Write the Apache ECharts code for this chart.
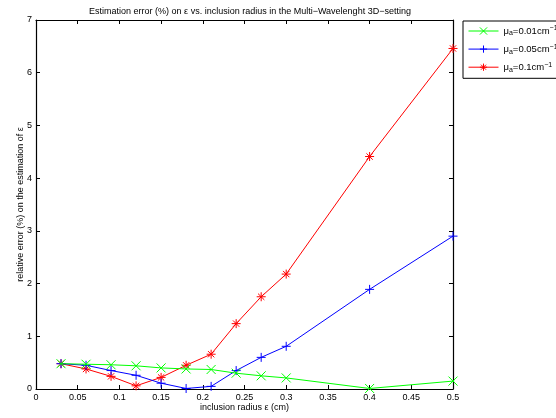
<!DOCTYPE html>
<html><head><meta charset="utf-8">
<script src="https://cdn.jsdelivr.net/npm/echarts@6/dist/echarts.min.js"></script>
<style>html,body{margin:0;padding:0;background:#fff}#c{width:556px;height:418px}</style>
</head><body><div id="c"></div>
<script>
const radius = [0.03, 0.06, 0.09, 0.12, 0.15, 0.18, 0.21, 0.24, 0.27, 0.30, 0.40, 0.50];
const err001 = [0.48, 0.47, 0.46, 0.44, 0.40, 0.38, 0.37, 0.30, 0.25, 0.21, 0.01, 0.15];
const err005 = [0.48, 0.45, 0.35, 0.26, 0.11, 0.01, 0.05, 0.35, 0.60, 0.81, 1.89, 2.90];
const err01  = [0.48, 0.38, 0.24, 0.06, 0.22, 0.45, 0.66, 1.24, 1.75, 2.18, 4.41, 6.46];
const seriesNames = ['μa=0.01cm-1', 'μa=0.05cm-1', 'μa=0.1cm-1'];
const legendRich = ['{t|μ}{s|a}{t|=0.01cm}{p|−1}', '{t|μ}{s|a}{t|=0.05cm}{p|−1}', '{t|μ}{s|a}{t|=0.1cm}{p|−1}'];
const colors = ['#00ff00', '#0000ff', '#ff0000'];
const symbols = [
  'path://M0,0L10,10M10,0L0,10',
  'path://M5,0L5,10M0,5L10,5',
  'path://M5,0L5,10M0,5L10,5M1.5,1.5L8.5,8.5M8.5,1.5L1.5,8.5'
];
const allData = [err001, err005, err01];
const font = 'Liberation Sans, Arial, sans-serif';
const chart = echarts.init(document.getElementById('c'));
const series = allData.map((d, i) => ({
  name: seriesNames[i], type: 'line',
  data: radius.map((x, j) => [x, d[j]]),
  symbol: symbols[i], symbolSize: 9, showSymbol: true,
  lineStyle: {color: colors[i], width: 1},
  itemStyle: {color: 'none', borderColor: colors[i], borderWidth: 1},
  animation: false, z: 3 + (2 - i)
}));
const baseAxis = {
  axisLine: {show: true, onZero: false, lineStyle: {color: '#000', width: 1.2}},
  axisTick: {show: true, inside: true, length: 4, lineStyle: {color: '#000'}},
  splitLine: {show: false}
};
chart.setOption({
  backgroundColor: '#fff',
  animation: false,
  title: {
    text: 'Estimation error (%) on ε vs. inclusion radius in the Multi−Wavelenght 3D−setting',
    left: 245, top: 2, textAlign: 'center',
    textStyle: {fontFamily: font, fontSize: 9, fontWeight: 'normal', color: '#000'}
  },
  grid: {left: 36, right: 103, top: 20, bottom: 29},
  legend: {
    orient: 'vertical', left: 463, top: 21,
    itemWidth: 30, itemHeight: 9, itemGap: 5,
    padding: [3, 40, 5, 5],
    borderColor: '#000', borderWidth: 1,
    data: seriesNames,
    lineStyle: {width: 1},
    itemStyle: {color: 'none', borderWidth: 1},
    formatter: name => legendRich[seriesNames.indexOf(name)],
    textStyle: {
      fontFamily: font, fontSize: 9.5, color: '#000', lineHeight: 12,
      rich: {
        t: {fontFamily: font, fontSize: 9.5, color: '#000', lineHeight: 12},
        s: {fontFamily: font, fontSize: 7, color: '#000', verticalAlign: 'bottom', lineHeight: 12, padding: [6, 0, 0, 0]},
        p: {fontFamily: font, fontSize: 7, color: '#000', verticalAlign: 'top', lineHeight: 12, padding: [0, 0, 5, 0]}
      }
    }
  },
  xAxis: [
    Object.assign({}, baseAxis, {
      type: 'value', min: 0, max: 0.5, interval: 0.05, position: 'bottom',
      name: 'inclusion radius ε (cm)', nameLocation: 'middle', nameGap: 14,
      nameMoveOverlap: false,
      nameTextStyle: {fontFamily: font, fontSize: 9, color: '#000'},
      axisLabel: {fontFamily: font, fontSize: 9, color: '#000', margin: 4,
        formatter: v => String(Math.round(v * 100) / 100)}
    }),
    Object.assign({}, baseAxis, {
      type: 'value', min: 0, max: 0.5, interval: 0.05, position: 'top',
      axisLabel: {show: false}
    })
  ],
  yAxis: [
    Object.assign({}, baseAxis, {
      type: 'value', min: 0, max: 7, interval: 1, position: 'left',
      name: 'relative error (%) on the estimation of ε', nameLocation: 'middle', nameGap: 11,
      nameMoveOverlap: false,
      nameTextStyle: {fontFamily: font, fontSize: 9, color: '#000'},
      axisLabel: {fontFamily: font, fontSize: 9, color: '#000', margin: 4}
    }),
    Object.assign({}, baseAxis, {
      type: 'value', min: 0, max: 7, interval: 1, position: 'right',
      axisLabel: {show: false}
    })
  ],
  series: series
});
</script></body></html>
